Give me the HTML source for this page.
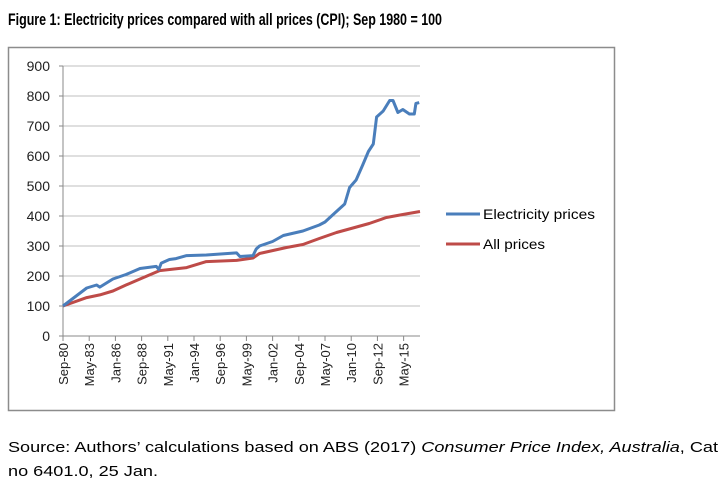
<!DOCTYPE html>
<html><head><meta charset="utf-8"><style>
html,body{margin:0;padding:0;background:#fff;width:724px;height:487px;overflow:hidden}
svg{display:block;font-family:"Liberation Sans",sans-serif}
</style></head><body>
<svg id="chart" width="724" height="487">
<text x="8" y="25" font-size="17" font-weight="bold" textLength="434" lengthAdjust="spacingAndGlyphs">Figure 1: Electricity prices compared with all prices (CPI); Sep 1980 = 100</text>
<rect x="8.5" y="47.5" width="606" height="363" fill="#fff" stroke="#8c8c8c" stroke-width="1.5"/>
<g id="grid"></g><g id="axes"></g><g id="series"></g>
<line x1="446" y1="214" x2="480" y2="214" stroke="#4a7ebb" stroke-width="3"/>
<text x="483" y="219" font-size="14" textLength="112" lengthAdjust="spacingAndGlyphs">Electricity prices</text>
<line x1="446" y1="244" x2="480" y2="244" stroke="#be4b48" stroke-width="3"/>
<text x="483" y="249" font-size="14" textLength="62" lengthAdjust="spacingAndGlyphs">All prices</text>
<text x="8" y="452" font-size="15" textLength="710" lengthAdjust="spacingAndGlyphs">Source: Authors’ calculations based on ABS (2017) <tspan font-style="italic">Consumer Price Index, Australia</tspan>, Cat</text>
<text x="8" y="476" font-size="15" textLength="150" lengthAdjust="spacingAndGlyphs">no 6401.0, 25 Jan.</text>
</svg>
<script>
const yTicks=[0,100,200,300,400,500,600,700,800,900];
const xTickLabels=["Sep-80","May-83","Jan-86","Sep-88","May-91","Jan-94","Sep-96","May-99","Jan-02","Sep-04","May-07","Jan-10","Sep-12","May-15"];
const xTickMonths=[0,32,64,96,128,160,192,224,256,288,320,352,384,416];
const elecMonths=[0,29,41,45,61,77,94,114,117,120,130,138,151,175,212,216,232,236,240,256,269,293,313,320,332,344,350,358,366,373,379,383,391,399,403,409,415,423,429,431,435];
const elecValues=[100,160,170,163,190,205,225,232,222,243,255,258,268,270,277,265,268,290,300,315,335,350,370,380,410,440,495,520,570,615,640,730,750,785,785,745,755,740,740,775,778];
const cpiMonths=[0,29,45,61,77,94,118,151,175,212,232,240,273,293,313,334,354,374,395,415,436];
const cpiValues=[100,128,137,150,170,190,218,228,248,252,260,275,295,305,325,345,360,375,395,405,415];
const NS="http://www.w3.org/2000/svg";
const X0=63,X1=420,Y0=336,Y1=66,MMAX=436;
const xs=m=>X0+m*(X1-X0)/MMAX;
const ys=v=>Y0-v*(Y0-Y1)/900;
function mk(t,a,p){const e=document.createElementNS(NS,t);for(const k in a)e.setAttribute(k,a[k]);p.appendChild(e);return e;}
const grid=document.getElementById('grid'),axes=document.getElementById('axes'),ser=document.getElementById('series');
yTicks.forEach(v=>{
 if(v>0){const g=mk('line',{x1:X0,x2:X1,y1:ys(v),y2:ys(v),stroke:'#bfbfbf','stroke-width':1},grid);
 
 }
 const t=mk('text',{x:50,y:ys(v)+5,'font-size':14,'text-anchor':'end',fill:'#222'},axes);t.textContent=v;
 
 
 mk('line',{x1:X0-4,x2:X0,y1:ys(v),y2:ys(v),stroke:'#888'},axes);
});
const ya=mk('line',{x1:X0,x2:X0,y1:Y1,y2:Y0,stroke:'#888'},axes);


const xa=mk('line',{x1:X0,x2:X1,y1:Y0,y2:Y0,stroke:'#888'},axes);


xTickMonths.forEach((m,i)=>{
 const x=xs(m);
 mk('line',{x1:x,x2:x,y1:Y0,y2:Y0+5,stroke:'#888'},axes);
 const t=mk('text',{x:0,y:0,'font-size':13,'text-anchor':'end',transform:`translate(${x+5},${Y0+7}) rotate(-90)`,fill:'#222'},axes);
 t.textContent=xTickLabels[i];
 
 
});
function line(ms,vs,col,name){
 const d=ms.map((m,i)=>(i?'L':'M')+xs(m).toFixed(1)+','+ys(vs[i]).toFixed(1)).join('');
 const p=mk('path',{d:d,fill:'none',stroke:col,'stroke-width':3,'stroke-linejoin':'round'},ser);
 
 
}
line(cpiMonths,cpiValues,'#be4b48','all-prices-line');
line(elecMonths,elecValues,'#4a7ebb','electricity-prices-line');
</script>
</body></html>
